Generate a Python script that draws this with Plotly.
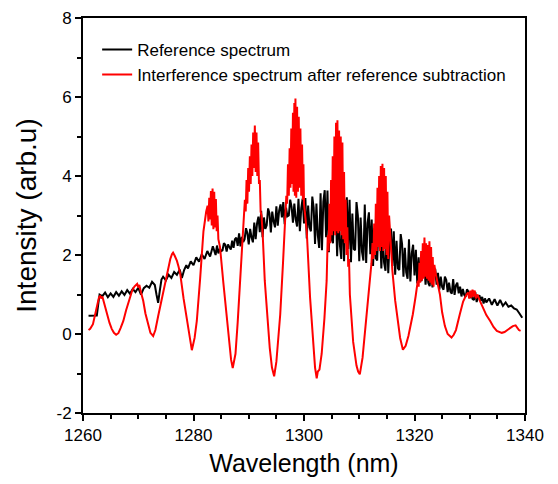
import plotly.graph_objects as go

# ---------------- data ----------------
# Reference spectrum (black)
black_wl = [
    1261.0, 1261.5, 1262.0, 1262.5, 1262.8, 1263.0,
    1263.5, 1264.0, 1264.5, 1265.0, 1265.5, 1266.0, 1266.5, 1267.0, 1267.5, 1268.0,
    1268.5, 1269.0, 1269.5, 1270.0, 1270.5, 1271.0, 1271.5, 1272.0, 1272.5, 1273.0,
    1273.3, 1273.6, 1273.9, 1274.2,
    1274.5, 1275.0, 1275.5, 1276.0, 1276.5, 1277.0, 1277.5,
    1277.9, 1278.3, 1278.7,
    1279.0, 1279.5, 1280.0, 1280.5, 1281.0, 1281.5, 1282.0, 1282.5, 1283.0, 1283.5, 1284.0,
    1284.25, 1284.5, 1284.75, 1285.0,
    1285.25, 1285.5, 1285.75, 1286.0,
    1286.25, 1286.5, 1286.75, 1287.0,
    1287.25, 1287.5, 1287.75, 1288.0,
    1288.25, 1288.5, 1288.75, 1289.0,
    1289.25, 1289.5, 1289.75, 1290.0,
    1290.25, 1290.5, 1290.75, 1291.0,
    1291.25, 1291.5, 1291.75, 1292.0,
    1292.25, 1292.5, 1292.75, 1293.0,
    1293.25, 1293.5, 1293.75, 1294.0,
    1294.25, 1294.5, 1294.75, 1295.0,
    1295.25, 1295.5, 1295.75, 1296.0,
    1296.25, 1296.5, 1296.75, 1297.0,
    1297.25, 1297.5, 1297.75, 1298.0,
    1298.25, 1298.5, 1298.75, 1299.0,
    1299.25, 1299.5, 1299.75, 1300.0,
    1300.25, 1300.5, 1300.75, 1301.0,
    1301.25, 1301.5, 1301.75, 1302.0,
    1302.25, 1302.5, 1302.75, 1303.0,
    1303.25, 1303.5, 1303.75, 1304.0,
    1304.25, 1304.5, 1304.75, 1305.0,
    1305.25, 1305.5, 1305.75, 1306.0,
    1306.25, 1306.5, 1306.75, 1307.0,
    1307.25, 1307.5, 1307.75, 1308.0,
    1308.25, 1308.5, 1308.75, 1309.0,
    1309.25, 1309.5, 1309.75, 1310.0,
    1310.25, 1310.5, 1310.75, 1311.0,
    1311.25, 1311.5, 1311.75, 1312.0,
    1312.25, 1312.5, 1312.75, 1313.0,
    1313.25, 1313.5, 1313.75, 1314.0,
    1314.25, 1314.5, 1314.75, 1315.0,
    1315.25, 1315.5, 1315.75, 1316.0,
    1316.25, 1316.5, 1316.75, 1317.0,
    1317.25, 1317.5, 1317.75, 1318.0,
    1318.25, 1318.5, 1318.75, 1319.0,
    1319.25, 1319.5, 1319.75, 1320.0,
    1320.25, 1320.5, 1320.75, 1321.0,
    1321.25, 1321.5, 1321.75, 1322.0,
    1322.25, 1322.5, 1322.75, 1323.0,
    1323.25, 1323.5, 1323.75, 1324.0,
    1324.25, 1324.5, 1324.75, 1325.0,
    1325.25, 1325.5, 1325.75, 1326.0,
    1326.25, 1326.5, 1326.75, 1327.0,
    1327.25, 1327.5, 1327.75, 1328.0,
    1328.25, 1328.5, 1328.75, 1329.0,
    1329.25, 1329.5, 1329.75, 1330.0,
    1330.25, 1330.5, 1330.75, 1331.0,
    1331.25, 1331.5, 1331.75, 1332.0,
    1332.25, 1332.5, 1332.75, 1333.0,
    1333.5, 1334.0, 1334.5, 1335.0, 1335.5, 1336.0, 1336.5, 1337.0,
    1337.5, 1338.0, 1338.5, 1339.0, 1339.5,
]
black_int = [
    0.46, 0.46, 0.46, 0.47, 0.80, 1.00,
    0.96, 1.05, 0.93, 1.03, 0.94, 1.06, 0.97, 1.08, 0.99, 1.11,
    1.02, 1.14, 1.06, 1.17, 1.00, 1.16, 1.22, 1.17, 1.32, 1.24,
    1.00, 0.79, 1.10, 1.38,
    1.45, 1.36, 1.50, 1.42, 1.57, 1.50, 1.63,
    1.42, 1.62, 1.74,
    1.66, 1.84, 1.74, 1.94, 1.83, 2.02, 1.90, 2.10, 1.96, 2.22, 2.00,
    2.24, 2.04, 2.16, 2.10,
    2.12, 2.30, 2.26, 2.09,
    2.27, 2.20, 2.14, 2.36,
    2.18, 2.40, 2.44, 2.23,
    2.55, 2.22, 2.46, 2.33,
    2.40, 2.68, 2.55, 2.27,
    2.66, 2.45, 2.32, 2.82,
    2.40, 2.80, 2.97, 2.58,
    3.12, 2.45, 2.95, 2.66,
    2.75, 3.18, 3.05, 2.57,
    3.10, 2.85, 2.70, 3.23,
    2.74, 3.12, 3.28, 2.95,
    3.34, 2.78, 3.20, 2.98,
    3.00, 3.40, 3.22, 2.82,
    3.30, 2.90, 2.72, 3.42,
    2.60, 3.18, 3.43, 2.80,
    3.44, 2.42, 3.25, 2.70,
    2.60, 3.48, 3.20, 2.28,
    3.30, 2.50, 2.18, 3.56,
    2.12, 3.35, 3.64, 2.45,
    3.63, 2.07, 3.28, 2.40,
    2.30, 3.58, 3.20, 1.97,
    3.15, 2.25, 1.90, 3.53,
    1.84, 3.10, 3.46, 2.15,
    3.40, 1.82, 3.05, 2.15,
    2.12, 3.34, 3.00, 1.84,
    2.95, 2.08, 1.86, 3.28,
    1.80, 2.80, 3.08, 2.02,
    2.90, 1.72, 2.68, 1.92,
    1.86, 2.81, 2.58, 1.66,
    2.48, 1.80, 1.60, 2.74,
    1.54, 2.40, 2.67, 1.72,
    2.60, 1.50, 2.36, 1.66,
    1.62, 2.53, 2.28, 1.45,
    2.18, 1.56, 1.40, 2.40,
    1.33, 2.04, 2.26, 1.48,
    2.13, 1.28, 1.94, 1.40,
    1.34, 1.96, 1.80, 1.25,
    1.66, 1.29, 1.21, 1.78,
    1.18, 1.55, 1.65, 1.25,
    1.55, 1.12, 1.45, 1.19,
    1.12, 1.45, 1.37, 1.06,
    1.30, 1.07, 1.02, 1.39,
    0.99, 1.23, 1.30, 1.03,
    1.20, 0.95, 1.14, 0.99,
    0.94, 1.13, 1.07, 0.91,
    1.01, 0.89, 0.86, 1.06,
    0.81, 0.94, 0.98, 0.84,
    0.94, 0.77, 0.90, 0.80,
    0.90, 0.74, 0.88, 0.72, 0.86, 0.71, 0.80, 0.69,
    0.72, 0.65, 0.62, 0.52, 0.41,
]

# Interference spectrum after reference subtraction (red)
red_wl = [
    1261.0, 1261.3, 1261.8, 1262.2, 1262.6, 1262.9, 1263.1, 1263.3, 1263.5, 1263.8,
    1264.3, 1264.8, 1265.2, 1265.6, 1266.0, 1266.4, 1266.8, 1267.3, 1267.8, 1268.2,
    1268.5, 1268.9, 1269.3, 1269.6, 1269.8, 1270.0, 1270.2, 1270.5, 1270.9, 1271.3,
    1271.8, 1272.2, 1272.7, 1273.1, 1273.6, 1274.1, 1274.5, 1275.0, 1275.4, 1275.8,
    1276.1, 1276.3, 1276.6, 1277.0, 1277.3, 1277.6, 1278.2, 1278.8, 1279.3, 1279.7,
    1280.2, 1280.6, 1281.2, 1281.8, 1282.3, 1282.55, 1282.7, 1282.85, 1283.0, 1283.15,
    1283.3, 1283.45, 1283.6, 1283.75, 1283.9, 1284.05, 1284.2, 1284.35, 1284.5, 1284.8,
    1285.4, 1286.0, 1286.5, 1286.8, 1287.1, 1287.6, 1288.0, 1288.4, 1289.0, 1289.3,
    1289.45, 1289.6, 1289.75, 1289.9, 1290.05, 1290.2, 1290.35, 1290.5, 1290.65, 1290.8,
    1290.95, 1291.1, 1291.25, 1291.4, 1291.55, 1291.7, 1291.85, 1292.0, 1292.15, 1292.3,
    1292.5, 1292.9, 1293.4, 1293.8, 1294.2, 1294.6, 1295.0, 1295.4, 1295.7, 1296.2,
    1296.6, 1296.8, 1296.95, 1297.1, 1297.25, 1297.4, 1297.55, 1297.7, 1297.85, 1298.0,
    1298.1, 1298.25, 1298.35, 1298.45, 1298.6, 1298.75, 1298.9, 1299.05, 1299.2, 1299.35,
    1299.5, 1299.65, 1299.8, 1299.9, 1300.0, 1300.5, 1301.1, 1301.7, 1302.0, 1302.3,
    1302.5, 1302.8, 1303.2, 1303.7, 1304.1, 1304.3, 1304.45, 1304.6, 1304.75, 1304.9,
    1305.05, 1305.2, 1305.35, 1305.5, 1305.65, 1305.8, 1305.95, 1306.05, 1306.2, 1306.35,
    1306.5, 1306.65, 1306.8, 1306.95, 1307.1, 1307.25, 1307.4, 1307.55, 1307.7, 1307.85,
    1308.0, 1308.15, 1308.3, 1308.9, 1309.5, 1309.8, 1310.1, 1310.6, 1311.0, 1311.3,
    1311.8, 1312.2, 1312.4, 1312.55, 1312.7, 1312.85, 1313.0, 1313.15, 1313.3, 1313.45,
    1313.6, 1313.75, 1313.9, 1314.05, 1314.2, 1314.35, 1314.5, 1314.65, 1314.8, 1314.95,
    1315.1, 1315.25, 1315.4, 1315.6, 1316.0, 1316.5, 1317.0, 1317.4, 1317.9, 1318.4,
    1318.9, 1319.3, 1319.7, 1320.2, 1320.6, 1320.75, 1320.9, 1321.05, 1321.2, 1321.35,
    1321.5, 1321.65, 1321.8, 1321.95, 1322.1, 1322.25, 1322.4, 1322.55, 1322.7, 1322.85,
    1323.0, 1323.15, 1323.3, 1323.45, 1323.6, 1323.8, 1324.2, 1324.6, 1325.0, 1325.5,
    1326.0, 1326.7, 1327.1, 1327.5, 1328.2, 1328.8, 1329.4, 1329.7, 1329.9, 1330.1,
    1330.3, 1330.5, 1330.7, 1330.9, 1331.1, 1331.4, 1331.8, 1332.4, 1333.0, 1333.7,
    1334.3, 1334.9, 1335.4, 1335.8, 1336.3, 1336.8, 1337.3, 1337.8, 1338.3, 1338.6,
    1338.9, 1339.2,
]
red_int = [
    0.10, 0.13, 0.25, 0.50, 0.80, 0.93, 0.96, 0.90, 0.95, 0.78,
    0.50, 0.28, 0.13, 0.03, -0.02, 0.02, 0.15, 0.33, 0.60, 0.80,
    0.92, 1.10, 1.20, 1.25, 1.27, 1.18, 1.24, 1.05, 0.84, 0.52,
    0.20, 0.03, -0.05, 0.10, 0.45, 0.78, 1.00, 1.40, 1.68, 1.90,
    2.02, 2.06, 1.98, 1.85, 1.70, 1.52, 0.90, 0.33, -0.15, -0.41,
    -0.10, 0.33, 1.40, 2.60, 3.10, 3.25, 2.85, 3.45, 2.90, 3.62,
    2.75, 3.68, 2.65, 3.60, 2.70, 3.42, 2.60, 3.00, 2.40, 2.20,
    1.30, 0.50, -0.30, -0.65, -0.86, -0.50, 0.30, 1.35, 2.87, 3.40,
    3.10, 3.90, 3.30, 4.20, 3.60, 4.50, 3.80, 4.80, 4.00, 5.10,
    4.20, 5.28, 4.10, 5.10, 4.00, 4.85, 3.80, 3.90, 3.10, 3.00,
    2.60, 1.35, 0.40, -0.35, -0.85, -1.07, -0.70, -0.10, 0.50, 1.80,
    3.00, 3.50, 3.30, 4.30, 3.50, 4.70, 3.70, 5.20, 3.80, 5.60,
    3.60, 5.85, 3.50, 5.96, 3.45, 5.75, 3.60, 5.50, 3.70, 5.20,
    3.50, 4.80, 3.40, 4.30, 3.30, 2.60, 0.92, -0.35, -0.85, -1.12,
    -0.95, -0.90, -0.50, 0.40, 1.35, 2.50, 2.10, 3.30, 2.30, 3.90,
    2.50, 4.50, 2.60, 5.00, 2.50, 5.35, 2.60, 5.41, 2.55, 5.15,
    2.60, 5.00, 2.50, 4.85, 2.40, 4.10, 2.30, 3.40, 2.00, 2.70,
    1.70, 1.90, 1.00, -0.20, -0.80, -0.95, -1.02, -0.60, 0.00, 0.50,
    1.20, 1.78, 2.30, 1.90, 2.80, 2.00, 3.30, 2.10, 3.70, 2.20,
    4.00, 2.10, 4.25, 2.20, 4.31, 2.10, 4.20, 2.15, 4.00, 2.00,
    3.60, 1.90, 3.00, 2.40, 1.60, 0.85, 0.25, -0.10, -0.40, -0.30,
    -0.05, 0.20, 0.50, 0.95, 1.35, 1.20, 1.80, 1.30, 2.10, 1.35,
    2.30, 1.40, 2.44, 1.45, 2.30, 1.40, 2.25, 1.35, 2.35, 1.30,
    2.20, 1.25, 1.95, 1.20, 1.75, 1.55, 1.25, 1.00, 0.55, 0.20,
    0.00, -0.09, -0.02, 0.10, 0.50, 0.82, 1.00, 1.05, 0.90, 1.10,
    0.92, 1.12, 0.95, 1.10, 0.90, 1.00, 0.85, 0.66, 0.48, 0.33,
    0.18, 0.08, 0.05, 0.03, 0.05, 0.10, 0.16, 0.20, 0.22, 0.14,
    0.10, 0.08,
]

series_names = ["Reference spectrum", "Interference spectrum after reference subtraction"]
x_tick_vals = [1260, 1280, 1300, 1320, 1340]
x_tick_text = ["1260", "1280", "1300", "1320", "1340"]
y_tick_vals = [-2, 0, 2, 4, 6, 8]
y_tick_text = ["-2", "0", "2", "4", "6", "8"]

FONT = "Arial, Liberation Sans, sans-serif"

fig = go.Figure()
fig.add_trace(go.Scatter(x=black_wl, y=black_int, mode="lines", name=series_names[0],
                         line=dict(color="#000000", width=2)))
fig.add_trace(go.Scatter(x=red_wl, y=red_int, mode="lines", name=series_names[1],
                         line=dict(color="#ff0000", width=2)))

axis_common = dict(showline=True, linecolor="black", linewidth=2, mirror=True,
                   ticks="outside", tickwidth=2, ticklen=6, tickcolor="black",
                   showgrid=False, zeroline=False, automargin=False,
                   tickfont=dict(family=FONT, size=17, color="black"))

fig.update_xaxes(range=[1260, 1340], tickmode="array", tickvals=x_tick_vals, ticktext=x_tick_text,
                 minor=dict(ticks="outside", dtick=5, tick0=1260, ticklen=4, tickwidth=2, tickcolor="black"),
                 title=dict(text="Wavelength (nm)", font=dict(family=FONT, size=25, color="black"), standoff=10),
                 **axis_common)
fig.update_yaxes(range=[-2, 8], tickmode="array", tickvals=y_tick_vals, ticktext=y_tick_text,
                 minor=dict(ticks="outside", dtick=1, tick0=0, ticklen=4, tickwidth=2, tickcolor="black"),
                 title=dict(text="Intensity (arb.u)", font=dict(family=FONT, size=28, color="black"), standoff=12),
                 **axis_common)

fig.update_layout(
    width=550, height=476,
    margin=dict(l=75, r=33, t=10, b=71),
    paper_bgcolor="white", plot_bgcolor="white",
    showlegend=True,
    legend=dict(x=0.032, y=0.965, xanchor="left", yanchor="top",
                bgcolor="rgba(0,0,0,0)", font=dict(family=FONT, size=17, color="black"),
                tracegroupgap=0),
)

fig.write_html("out.html")
